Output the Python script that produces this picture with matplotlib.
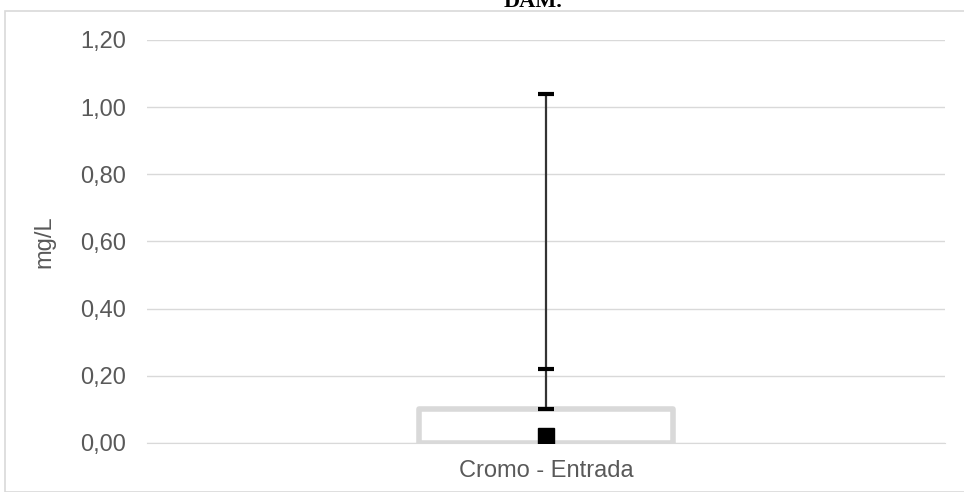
import matplotlib.pyplot as plt
from matplotlib.patches import Rectangle
from matplotlib.ticker import FuncFormatter

categories = ["Cromo - Entrada"]
box_low = [0.0]
box_high = [0.10]
whisker_high = [1.04]
dash_marks = [0.10, 0.22, 1.04]
center_mark = [0.02]
yticks = [0.0, 0.2, 0.4, 0.6, 0.8, 1.0, 1.2]

plt.rcParams['font.family'] = ['Liberation Sans', 'DejaVu Sans']

fig = plt.figure(figsize=(9.64, 4.92), dpi=100)
ax = fig.add_axes([147 / 964, 1 - 443 / 492, 798 / 964, 403 / 492])

# chart frame
fig.patches.append(Rectangle((5 / 964, 0), 1, 1 - 11 / 492, transform=fig.transFigure,
                             fill=False, edgecolor="#d9d9d9", linewidth=1.2))

xs = list(range(len(categories)))
width = 0.318
for x, lo, hi, wh in zip(xs, box_low, box_high, whisker_high):
    ax.plot([x, x], [hi, wh], color="#333333", linewidth=1.6, zorder=2)
    ax.add_patch(Rectangle((x - width / 2, lo), width, hi - lo, facecolor="white",
                           edgecolor="#d9d9d9", linewidth=4, zorder=1, joinstyle="round"))

ax.plot([0] * len(dash_marks), dash_marks, linestyle="none", marker="_", markersize=11,
        markeredgewidth=3, color="black", zorder=3)
ax.plot(xs, center_mark, linestyle="none", marker="s", markersize=11, color="black", zorder=3)

ax.set_xlim(-0.5, 0.5)
ax.set_ylim(0, 1.2)
ax.set_yticks(yticks)
ax.yaxis.set_major_formatter(FuncFormatter(lambda v, p: f"{v:.2f}".replace(".", ",")))
ax.set_xticks(xs)
ax.set_xticklabels(categories)
ax.tick_params(axis="both", length=0, labelsize=17, labelcolor="#595959")
ax.tick_params(axis="y", pad=15)
ax.tick_params(axis="x", pad=12)
ax.grid(axis="y", color="#d9d9d9", linewidth=1)
ax.set_axisbelow(True)
for s in ["left", "right", "top"]:
    ax.spines[s].set_visible(False)
ax.spines["bottom"].set_color("#d9d9d9")
ax.set_ylabel("mg/L", fontsize=17, color="#595959", labelpad=18)

fig.text(533 / 964, 1 - 7 / 492, "DAM.", ha="center", va="baseline", fontsize=16,
         fontweight="bold", family="Liberation Serif")

fig.savefig("out.png", dpi=100)
